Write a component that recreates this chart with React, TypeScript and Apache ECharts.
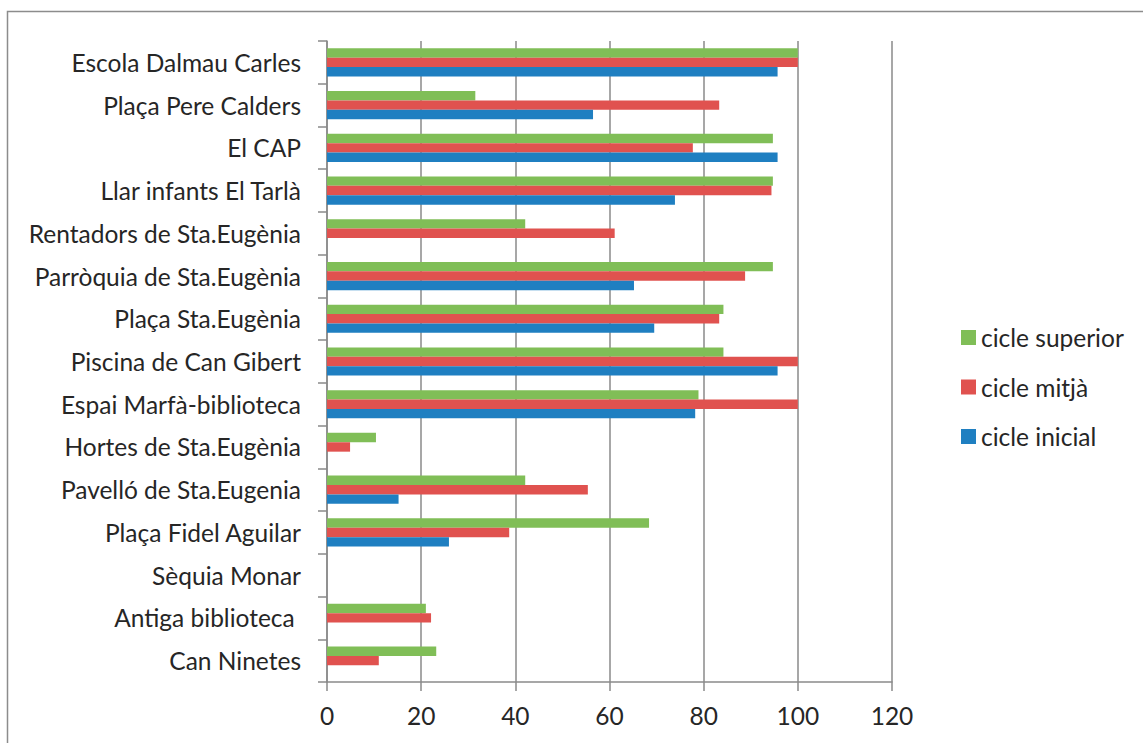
import React, { useEffect, useRef } from "react";
import * as echarts from "echarts";

// categories listed bottom-to-top (as the chart's data order)
const categories = [
  "Can Ninetes",
  "Antiga biblioteca ",
  "Sèquia Monar",
  "Plaça Fidel Aguilar",
  "Pavelló de Sta.Eugenia",
  "Hortes de Sta.Eugènia",
  "Espai Marfà-biblioteca",
  "Piscina de Can Gibert",
  "Plaça Sta.Eugènia",
  "Parròquia de Sta.Eugènia",
  "Rentadors de Sta.Eugènia",
  "Llar infants El Tarlà",
  "El CAP",
  "Plaça Pere Calders",
  "Escola Dalmau Carles",
];

const cicleSuperior = [23.2, 21.0, 0, 68.4, 42.1, 10.4, 78.9, 84.2, 84.2, 94.7, 42.1, 94.7, 94.7, 31.5, 100];
const cicleMitja = [11.0, 22.1, 0, 38.7, 55.4, 4.9, 100, 100, 83.3, 88.8, 61.1, 94.4, 77.7, 83.3, 100];
const cicleInicial = [0, 0, 0, 25.9, 15.2, 0, 78.2, 95.7, 69.5, 65.2, 0, 73.9, 95.7, 56.5, 95.7];

const xTicks = { min: 0, max: 120, interval: 20 };

const FONT = "Lato";
const FS = 24.5;
const TEXT = "#262626";
const GRAY = "#8a8a8a";

export default function App() {
  const ref = useRef<HTMLDivElement>(null);
  useEffect(() => {
    if (!ref.current) return;
    const chart = echarts.init(ref.current, null, { renderer: "svg" });
    chart.setOption({
      animation: false,
      backgroundColor: "#ffffff",
      textStyle: { fontFamily: FONT, color: TEXT },
      graphic: [
        {
          type: "rect",
          shape: { x: 7.5, y: 11.5, width: 1300, height: 900 },
          style: { fill: "none", stroke: "#8c8c8c", lineWidth: 1.5 },
          silent: true,
        },
      ],
      grid: { left: 327, right: 251, top: 41, bottom: 61, containLabel: false },
      legend: {
        orient: "vertical",
        left: 956,
        top: 320,
        itemWidth: 15,
        itemHeight: 15,
        itemGap: 24.5,
        icon: "rect",
        data: ["cicle superior", "cicle mitjà", "cicle inicial"],
        textStyle: { fontFamily: FONT, fontSize: FS, color: TEXT, lineHeight: 24 },
      },
      xAxis: {
        type: "value",
        min: xTicks.min,
        max: xTicks.max,
        interval: xTicks.interval,
        axisLine: { show: true, lineStyle: { color: GRAY, width: 1.5 } },
        axisTick: { show: true, length: 9, lineStyle: { color: GRAY, width: 1.5 } },
        splitLine: { show: true, lineStyle: { color: GRAY, width: 1.5 } },
        axisLabel: { fontFamily: FONT, fontSize: FS, color: TEXT, margin: 21 },
      },
      yAxis: {
        type: "category",
        data: categories,
        axisLine: { show: true, lineStyle: { color: GRAY, width: 1.5 } },
        axisTick: { show: true, length: 9, lineStyle: { color: GRAY, width: 1.5 } },
        axisLabel: { fontFamily: FONT, fontSize: FS, color: TEXT, margin: 26, interval: 0 },
      },
      series: [
        {
          name: "cicle superior",
          type: "bar",
          data: cicleSuperior,
          itemStyle: { color: "#80BE57" },
          barGap: "0%",
          barCategoryGap: "34%",
        },
        {
          name: "cicle mitjà",
          type: "bar",
          data: cicleMitja,
          itemStyle: { color: "#E0524F" },
          barGap: "0%",
          barCategoryGap: "34%",
        },
        {
          name: "cicle inicial",
          type: "bar",
          data: cicleInicial,
          itemStyle: { color: "#1F7FC1" },
          barGap: "0%",
          barCategoryGap: "34%",
        },
      ],
    });
    return () => chart.dispose();
  }, []);
  return (
    <div
      ref={ref}
      style={{ position: "absolute", left: 0, top: 0, width: 1143, height: 743 }}
    />
  );
}
